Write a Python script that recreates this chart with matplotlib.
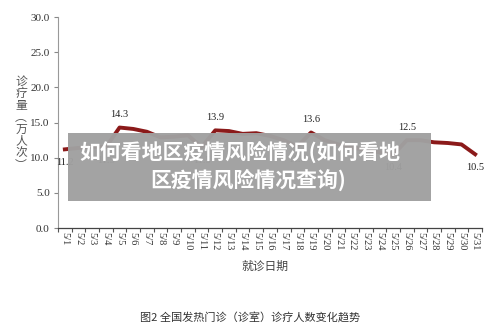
import matplotlib
matplotlib.use("Agg")
import matplotlib.pyplot as plt
from matplotlib.patches import Rectangle
import numpy as np

dates = [f"5/{d}" for d in range(1, 32)]
values = [11.2, 11.4, 11.6, 11.5, 14.3, 14.1, 13.7, 12.9, 13.0, 13.2, 11.5,
          13.9, 13.8, 13.4, 13.5, 13.1, 12.5, 11.6, 13.6, 12.5, 11.9, 11.5,
          11.1, 10.8, 10.4, 12.5, 12.5, 12.2, 12.1, 11.9, 10.5]
label_idx = [0, 3, 4, 10, 11, 17, 18, 24, 25, 30]
label_pos = ["below", "below", "above", "below", "above", "below", "above", "below", "above", "below"]
yticks = [0, 5, 10, 15, 20, 25, 30]

serif = "Liberation Serif"
cjk = ["Noto Sans CJK SC", "DejaVu Sans"]

fig = plt.figure(figsize=(5, 3.35), dpi=100)
ax = fig.add_axes([0.116, 0.319, 0.848, 0.630])
x = np.arange(len(dates))
ax.plot(x, values, color="#8b1a1a", lw=2.8, solid_joinstyle="round", zorder=3)

for i, pos in zip(label_idx, label_pos):
    off = 6 if pos == "above" else -6
    ax.annotate(f"{values[i]:.1f}", (x[i], values[i]), xytext=(0, off), textcoords="offset points",
                ha="center", va="bottom" if pos == "above" else "top",
                fontsize=7.5, family=serif, color="#222222")

ax.set_xlim(-0.5, len(dates) - 0.5)
ax.set_ylim(0, 30)
ax.set_yticks(yticks)
ax.set_yticklabels([f"{v:.1f}" for v in yticks], family=serif, fontsize=8, color="#333333")
ax.set_xticks(x)
ax.set_xticklabels(dates, rotation=-90, family=serif, fontsize=7.5, color="#333333")
ax.set_xticks(np.arange(-0.5, len(dates)), minor=True)
ax.tick_params(axis="x", which="major", length=0, pad=3)
ax.tick_params(axis="x", which="minor", length=3, color="#555555", width=0.8)
ax.tick_params(axis="y", length=3, color="#888888", width=0.8, pad=3)
for s in ["top", "right"]:
    ax.spines[s].set_visible(False)
ax.spines["left"].set_color("#999999")
ax.spines["bottom"].set_color("#444444")
ax.spines["left"].set_linewidth(0.8)
ax.spines["bottom"].set_linewidth(0.9)

# y label stacked
ylabel_chars = ["诊", "疗", "量", "︵", "万", "人", "次", "︶"]
for k, ch in enumerate(ylabel_chars):
    fig.text(0.042, 1 - (81 + k * 12) / 335, ch, family=cjk, fontsize=8.5,
             color="#555555", ha="center", va="center")

fig.text(265 / 500, 1 - 266 / 335, "就诊日期", family=cjk, fontsize=8.5, color="#444444",
         ha="center", va="center")
fig.text(250 / 500, 1 - 317 / 335, "图2 全国发热门诊（诊室）诊疗人数变化趋势", family=cjk,
         fontsize=8, color="#333333", ha="center", va="center")

# overlay banner
fig.patches.append(Rectangle((68 / 500, 1 - 201 / 335), (431 - 68) / 500, (201 - 133) / 335,
                             transform=fig.transFigure, facecolor="#a0a0a0", alpha=0.97,
                             edgecolor="none", zorder=5))
fig.text(240 / 500, 1 - 152 / 335, "如何看地区疫情风险情况(如何看地", family=cjk,
         fontsize=15, fontweight="heavy", color="white", ha="center", va="center", zorder=6)
fig.text(248 / 500, 1 - 180 / 335, "区疫情风险情况查询)", family=cjk,
         fontsize=15, fontweight="heavy", color="white", ha="center", va="center", zorder=6)

fig.savefig("out.png", dpi=100, facecolor="white")
